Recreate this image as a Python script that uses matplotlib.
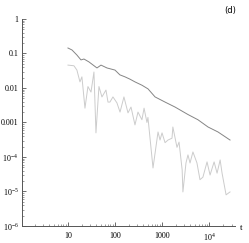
import matplotlib
matplotlib.use("Agg")
import matplotlib.pyplot as plt
from matplotlib.ticker import LogLocator, FixedLocator, NullFormatter

# upper (dark) curve
t_dark = [10, 12.2, 15.5, 18.9, 21.9, 27.9, 41.4, 50.4, 67.6, 100, 127, 163,
          208, 266, 375, 504, 711, 1160, 1890, 3560, 5800, 9500, 15500, 27900]
y_dark = [0.144, 0.126, 0.090, 0.065, 0.069, 0.057, 0.038, 0.046, 0.038,
          0.033, 0.024, 0.021, 0.018, 0.015, 0.012, 0.0094, 0.0055, 0.0039,
          0.0028, 0.0017, 0.0012, 0.00074, 0.00053, 0.00031]

# lower (light) curve
t_light = [10, 13.4, 15.5, 18, 19.8, 23, 26.6, 30.9, 35.7, 39.4, 45.6, 52.8,
           64.3, 71, 78, 90.5, 110, 128, 155, 189, 219, 266, 308, 374, 415,
           478, 502, 643, 822, 907, 1000, 1160, 1340, 1630, 1700, 2080, 2300,
           2680, 2780, 3230, 3560, 3940, 4540, 5530, 6410, 7400, 9060, 10500,
           12800, 14800, 17200, 18900, 23000, 27900]
y_light = [0.046, 0.044, 0.033, 0.015, 0.021, 0.0026, 0.011, 0.0076, 0.029,
           0.0005, 0.011, 0.0055, 0.0087, 0.0039, 0.0039, 0.0055, 0.0037,
           0.0020, 0.0055, 0.0019, 0.0028, 0.00085, 0.0020, 0.0012, 0.0026,
           0.0010, 0.0014, 4.8e-5, 0.00053, 0.00031, 0.0005, 0.00026, 0.00031,
           0.00035, 0.00074, 0.00019, 0.00027, 4.2e-5, 9.7e-6, 6.7e-5,
           0.000115, 6.7e-5, 0.00014, 6.7e-5, 2.2e-5, 2.6e-5, 7.2e-5, 3e-5,
           7.2e-5, 3.4e-5, 8.2e-5, 3.4e-5, 8e-6, 9.7e-6]

xticks = [10, 100, 1000, 10000]
xlabels = ["10", "100", "1000", "$10^4$"]
yticks = [1, 0.1, 0.01, 0.001, 1e-4, 1e-5, 1e-6]
ylabels = ["1", "0.1", "0.01", "0.001", "$10^{-4}$", "$10^{-5}$", "$10^{-6}$"]

plt.rcParams["mathtext.fontset"] = "custom"
plt.rcParams["mathtext.rm"] = "Liberation Serif"

fig = plt.figure(figsize=(2.49, 2.43), dpi=100)
ax = fig.add_axes([0.088, 0.07, 0.856, 0.852])

ax.plot(t_dark, y_dark, color="#858585", lw=0.7)
ax.plot(t_light, y_light, color="#cccccc", lw=0.7)

ax.set_xscale("log")
ax.set_yscale("log")
ax.set_xlim(1.05, 35700)
ax.set_ylim(1e-6, 1)

for s in ["top", "right"]:
    ax.spines[s].set_visible(False)
for s in ["left", "bottom"]:
    ax.spines[s].set_color("#555555")
    ax.spines[s].set_linewidth(0.7)

ax.xaxis.set_major_locator(FixedLocator(xticks))
ax.set_xticklabels(xlabels, family="Liberation Serif", fontsize=5.8)
ax.yaxis.set_major_locator(FixedLocator(yticks))
ax.set_yticklabels(ylabels, family="Liberation Serif", fontsize=5.8)
ax.xaxis.set_minor_locator(LogLocator(base=10, subs=range(2, 10)))
ax.yaxis.set_minor_locator(LogLocator(base=10, subs=range(2, 10)))
ax.xaxis.set_minor_formatter(NullFormatter())
ax.yaxis.set_minor_formatter(NullFormatter())
ax.tick_params(which="major", direction="in", length=3, width=0.6,
               color="#555555")
ax.tick_params(axis="y", which="major", pad=2.5)
ax.tick_params(axis="x", which="major", pad=4)
ax.tick_params(which="minor", direction="in", length=1.5, width=0.4,
               color="#555555")

fig.text(0.968, 0.06, "t", family="Liberation Serif", fontsize=6.5,
         ha="center", va="center")
fig.text(0.925, 0.955, "(d)", fontsize=6, ha="center", va="center")

fig.savefig("out.png", dpi=100)
